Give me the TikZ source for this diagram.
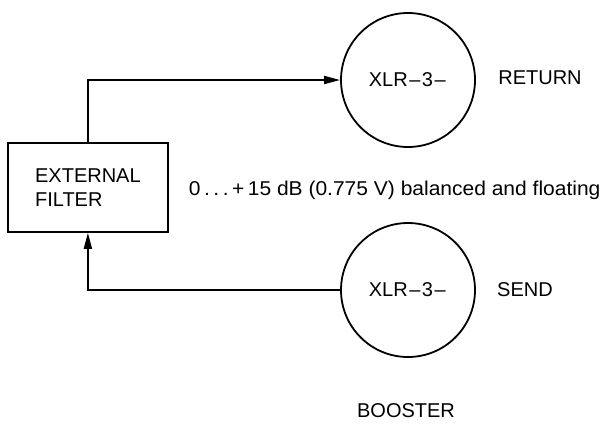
\documentclass[tikz,border=0pt]{standalone}
\usepackage{fontspec}
\setmainfont{Liberation Sans}
\usetikzlibrary{arrows.meta}
\newcommand{\xdash}{\kern1.5pt–\kern1.5pt}
\begin{document}
\begin{tikzpicture}[x=1pt,y=-1pt,
  line width=1.8pt,
  lbl/.style={inner sep=0pt, font=\fontsize{20}{24}\selectfont},
  conn/.style={circle, draw, line width=1.8pt, minimum size=134pt, inner sep=0pt, font=\fontsize{20}{24}\selectfont},
  arr/.style={-{Triangle[length=16pt,width=8pt]}}]
\useasboundingbox (0,0) rectangle (604,424);
\node[draw, minimum width=160pt, minimum height=89pt, anchor=north west, inner sep=0pt] (filt) at (7,142) {};
\node[lbl, align=left] (filttxt) at (filt.center) {EXTERNAL\\FILTER};
\node[conn] (ret) at (408,80) {XLR\xdash3\xdash};
\node[conn] (snd) at (408,290) {XLR\xdash3\xdash};
\node[lbl] (retl) at (540,78) {RETURN};
\node[lbl] (sndl) at (525,290) {SEND};
\node[lbl, anchor=west] (lev) at (188,190) {\scalebox{1.05}[1]{0\,.\,.\,.\,+\,15 dB (0.775 V) balanced and floating}};
\node[lbl] (boost) at (406,411) {BOOSTER};
\draw[arr] (filt.north) |- (ret.west);
\draw[arr] (snd.west) -| (filt.south);
\end{tikzpicture}
\end{document}
